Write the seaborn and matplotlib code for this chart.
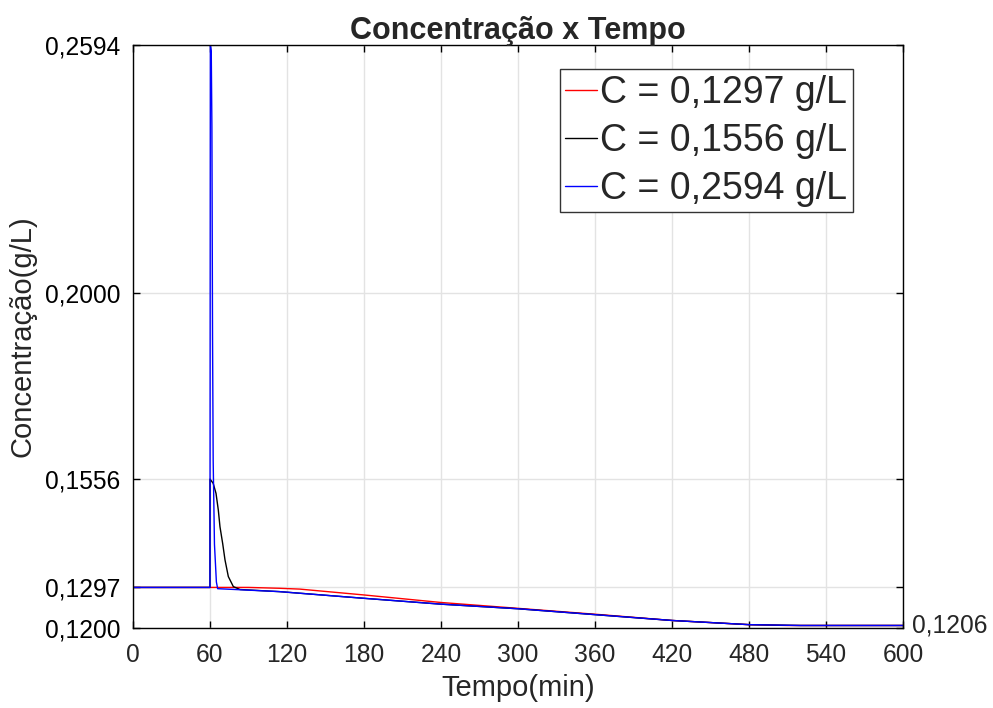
import matplotlib
matplotlib.use("Agg")
import matplotlib.pyplot as plt
import seaborn as sns
import pandas as pd

# Concentration profiles (g/L) over time (min) for three initial pulses
t_red = [0, 60, 90, 114, 130, 180, 240, 300, 364, 420, 480, 510, 600]
c_red = [0.1297, 0.1297, 0.1297, 0.1295, 0.1293, 0.1279, 0.1261, 0.1247, 0.1232, 0.1218, 0.1208, 0.1206, 0.1206]

t_black = [0, 60, 60.05, 62.5, 64.7, 66.5, 67.8, 69.9, 71.7, 74.3, 78.2, 83.4, 114, 180, 240, 300, 364, 420, 480, 520, 600]
c_black = [0.1297, 0.1297, 0.1556, 0.1546, 0.1522, 0.1482, 0.1442, 0.1402, 0.1363, 0.1323, 0.1299, 0.1292,
           0.1287, 0.1271, 0.1257, 0.1246, 0.1231, 0.1218, 0.1208, 0.1206, 0.1206]

t_blue = [0, 60, 60.3, 61.0, 61.5, 62.0, 62.5, 63.5, 65.0, 66.0, 114, 180, 240, 300, 364, 420, 480, 520, 600]
c_blue = [0.1297, 0.1297, 0.2594, 0.2580, 0.2400, 0.1900, 0.1600, 0.1400, 0.1310, 0.1294,
          0.1287, 0.1271, 0.1257, 0.1246, 0.1231, 0.1218, 0.1208, 0.1206, 0.1206]

labels = ["C = 0,1297 g/L", "C = 0,1556 g/L", "C = 0,2594 g/L"]
colors = ["#ff0000", "#000000", "#0000ff"]

x_ticks = [0, 60, 120, 180, 240, 300, 360, 420, 480, 540, 600]
y_ticks = [0.1200, 0.1297, 0.1556, 0.2000, 0.2594]
final_value = 0.1206

frames = []
for lab, t, c in zip(labels, [t_red, t_black, t_blue], [c_red, c_black, c_blue]):
    frames.append(pd.DataFrame({"Tempo": t, "C": c, "serie": lab}))
df = pd.concat(frames, ignore_index=True)

sns.set_theme(style="ticks")
plt.rcParams["font.family"] = ["Liberation Sans", "DejaVu Sans"]

fig = plt.figure(figsize=(9.93, 7.08), dpi=100)
ax = fig.add_axes([0.1339, 0.113, 0.7755, 0.8234])

sns.lineplot(data=df, x="Tempo", y="C", hue="serie", palette=colors,
             estimator=None, sort=False, linewidth=1.0, ax=ax)

ax.set_xlim(0, 600)
ax.set_ylim(0.1200, 0.2594)
ax.set_xticks(x_ticks)
ax.set_xticklabels([str(v) for v in x_ticks])
ax.set_yticks(y_ticks)
ax.set_yticklabels([f"{v:.4f}".replace(".", ",") for v in y_ticks])

ax.grid(True, color="#e3e3e3", linewidth=1.0)
ax.set_axisbelow(True)
for sp in ax.spines.values():
    sp.set_visible(True)
    sp.set_color("black")
    sp.set_linewidth(1.0)
ax.tick_params(direction="in", length=5, width=1.0, top=True, right=True,
               labelsize=17.7, colors="black", pad=9)
ax.tick_params(axis="x", labelcolor="#262626", pad=10.5)

ax.set_xlabel("Tempo(min)", fontsize=21, labelpad=5, color="#262626")
ax.set_ylabel("Concentração(g/L)", fontsize=21, labelpad=6)
ax.set_title("Concentração x Tempo", fontsize=22, fontweight="bold", pad=4.2)

ax.text(607, final_value, "0,1206", fontsize=17.7, va="center", ha="left", clip_on=False)

leg = ax.legend(loc="upper right", bbox_to_anchor=(0.935, 0.9588), fontsize=27,
                frameon=True, fancybox=False, edgecolor="#333333", framealpha=1,
                handlelength=0.85, handletextpad=0.08, labelspacing=0.32,
                borderpad=0.15, borderaxespad=0.0)
leg.get_frame().set_linewidth(1.0)
for line in leg.get_lines():
    line.set_linewidth(1.0)

fig.savefig("out.png", dpi=100)
